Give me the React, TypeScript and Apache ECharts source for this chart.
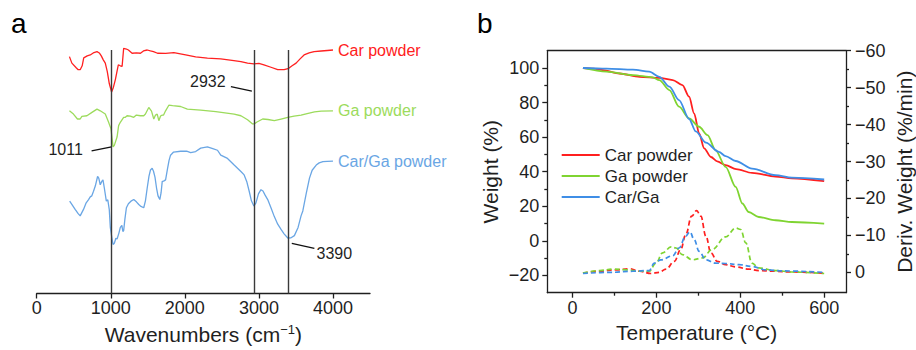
import React, { useEffect, useRef } from 'react';
import * as echarts from 'echarts';

const FONT = '"Liberation Sans", Arial, Helvetica, sans-serif';
const INK = '#1f1f1f';

// ---------- Panel a: FTIR spectra (wavenumber cm-1, offset transmittance a.u.) ----------
const ftirCar: number[][] = [
  [442, 240.3], [475, 233.7], [533, 229], [560, 227], [587, 227], [614, 231], [635, 239], [682, 241],
  [723, 242], [763, 244], [814, 245.3], [845, 244], [872, 241], [899, 237], [926, 233.7], [953, 225],
  [980, 213], [1011, 204.3], [1035, 209], [1062, 217], [1089, 227], [1102, 232], [1129, 231], [1153, 230.3],
  [1174, 248.7], [1211, 248], [1238, 247], [1288, 243.7], [1346, 244], [1401, 243.7], [1441, 246],
  [1492, 247], [1536, 246], [1577, 245.3], [1631, 243.7], [1740, 243.5], [1852, 244.3], [2011, 242],
  [2146, 240], [2305, 238.7], [2485, 238], [2662, 236.3], [2757, 235.3], [2847, 233.7], [2933, 233],
  [3000, 233.5], [3068, 232], [3163, 229.5], [3254, 227], [3340, 227], [3394, 228], [3448, 231],
  [3502, 233.7], [3556, 238], [3610, 242], [3678, 244], [3746, 245.3], [3841, 246], [3923, 246.5], [4000, 247],
];
const ftirGa: number[][] = [
  [442, 185.3], [496, 182], [550, 177], [587, 177], [610, 179.7], [678, 180.3], [746, 183.7], [814, 187],
  [858, 185.3], [926, 182], [971, 173.7], [1003, 167], [1031, 148.7], [1048, 150.3], [1085, 158.7],
  [1106, 170.3], [1129, 173.7], [1174, 178.7], [1197, 178.7], [1220, 180.3], [1265, 180], [1310, 178.7],
  [1346, 181], [1401, 180.3], [1445, 180.3], [1468, 182], [1513, 188.7], [1550, 185], [1581, 177],
  [1604, 181], [1627, 182], [1649, 175.3], [1672, 180], [1695, 181], [1713, 181], [1740, 185.3],
  [1784, 191], [1835, 190.5], [1943, 189.7], [2034, 187], [2214, 186], [2418, 184.5], [2666, 182],
  [2757, 180.3], [2847, 176.3], [2915, 172], [2937, 172], [2974, 174], [3051, 177], [3123, 176.5],
  [3208, 175.3], [3299, 177], [3390, 178.7], [3475, 180], [3570, 181], [3651, 182.5], [3751, 184.3],
  [3841, 185], [4000, 185.3],
];
const ftirCarGa: number[][] = [
  [445, 93.7], [479, 90], [519, 85.3], [560, 81], [587, 78.7], [632, 85.3], [668, 92], [700, 95.3],
  [723, 98], [743, 99], [767, 103.7], [791, 109], [822, 118.7], [838, 117], [858, 110.3], [881, 114],
  [895, 115.3], [913, 107], [940, 93.7], [960, 95], [980, 85], [994, 67], [1014, 57], [1031, 49.7],
  [1048, 51], [1069, 56], [1085, 55.3], [1109, 61], [1129, 67], [1150, 69], [1163, 63], [1174, 63.7],
  [1190, 75], [1211, 87], [1238, 91], [1279, 94], [1310, 95.3], [1346, 93], [1378, 90.3], [1401, 88.7],
  [1445, 87], [1468, 94], [1492, 107], [1516, 119], [1536, 125.3], [1559, 127], [1577, 124], [1597, 118],
  [1618, 107], [1638, 99], [1662, 95.3], [1679, 102], [1695, 113.7], [1713, 114], [1740, 115.3],
  [1767, 127], [1787, 135], [1807, 140.3], [1848, 143.5], [1943, 144.3], [2024, 144.5], [2079, 143],
  [2146, 144], [2214, 147.5], [2305, 148.7], [2377, 147], [2441, 145.3], [2485, 140.3], [2576, 137],
  [2666, 130.3], [2757, 123.7], [2801, 120.3], [2838, 113], [2869, 103.7], [2899, 94], [2932, 88.7],
  [2960, 92], [2994, 101], [3028, 105.3], [3055, 104], [3082, 100], [3119, 95.3], [3163, 87], [3208, 78],
  [3254, 70.3], [3299, 65], [3340, 60.5], [3390, 56.3], [3434, 56.5], [3479, 58.7], [3529, 67], [3570, 79],
  [3593, 83.7], [3638, 101], [3683, 117], [3719, 125], [3774, 130.3], [3814, 132.5], [3864, 133.7],
  [3923, 134], [4000, 134.3],
];
const ftirNames = ['Car powder', 'Ga powder', 'Car/Ga powder'];
const ftirPeakLines = [1011, 2932, 3390];
const wavenumberTicks = [0, 1000, 2000, 3000, 4000];
// annotated peaks: wavenumber and spectrum level where the leader line points
const ftirAnnotations = [
  { wavenumber: 1011, level: 148.7, text: '1011' },
  { wavenumber: 2932, level: 205.3, text: '2932' },
  { wavenumber: 3390, level: 56.3, text: '3390' },
];

// ---------- Panel b: TGA (weight %) and DTG (%/min) ----------
const tgCar: number[][] = [
  [25, 100], [50, 99.6], [73, 98.7], [112, 96.8], [160, 94.9], [207, 94.3], [239, 93], [262, 90.1],
  [278, 83.4], [290, 73.7], [302, 62.1], [314, 53.5], [330, 48.5], [345, 46], [365, 43.8], [390, 41.5],
  [428, 39.3], [484, 37.2], [523, 36.2], [600, 34.5],
];
const tgGa: number[][] = [
  [25, 100], [81, 97.9], [144, 95.9], [191, 94.6], [207, 93], [231, 87.2], [254, 77.6], [278, 70.8],
  [302, 66], [322, 61.2], [341, 52.5], [365, 42.8], [389, 31.2], [405, 21.6], [420, 16.7], [444, 13.8],
  [484, 11.9], [523, 10.9], [600, 10],
];
const tgCarGa: number[][] = [
  [25, 100], [81, 99.6], [144, 99], [183, 97.9], [207, 94.9], [231, 89.2], [254, 81.4], [278, 70.5],
  [294, 63.3], [318, 56.8], [349, 51.5], [365, 49], [389, 46.2], [428, 41.8], [484, 38], [523, 36.6],
  [600, 35.5],
];
const dtgCar: number[][] = [
  [25, 0.2], [65, -0.3], [104, -0.7], [136, -1.0], [160, -0.3], [187, 0.3], [207, 0], [223, -0.9],
  [243, -3], [258, -6.2], [270, -10.2], [284, -15.2], [296, -16.7], [306, -15.2], [318, -9.8],
  [330, -5.3], [345, -3], [365, -2.1], [389, -1.5], [420, -0.9], [444, -0.5], [484, -0.3], [523, -0.1],
  [600, 0.2],
];
const dtgGa: number[][] = [
  [25, 0.2], [65, -0.5], [96, -0.9], [128, -0.7], [160, -0.3], [183, -0.3], [199, -2.5], [215, -5.3],
  [235, -6.9], [247, -6.6], [262, -4.8], [286, -3.4], [310, -3.9], [333, -6.2], [365, -9.6], [389, -12],
  [401, -11.6], [413, -8], [428, -2.5], [444, -1.2], [484, -0.5], [523, -0.1], [600, 0.3],
];
const dtgCarGa: number[][] = [
  [25, 0.3], [88, 0], [144, -0.3], [183, -0.5], [195, -2.5], [211, -3.4], [239, -4.5], [254, -6.6],
  [270, -9.8], [280, -11], [290, -8.9], [302, -5.7], [318, -3.4], [341, -2.5], [365, -2.4], [397, -2.1],
  [428, -1.6], [460, -0.7], [499, -0.4], [600, 0],
];
const tgaNames = ['Car powder', 'Ga powder', 'Car/Ga'];
const temperatureTicks = [0, 200, 400, 600];
const temperatureMinorTicks = [100, 300, 500];
const weightTicks = [-20, 0, 20, 40, 60, 80, 100];
const weightMinorTicks = [-10, 10, 30, 50, 70, 90];
const derivTicks = [-60, -50, -40, -30, -20, -10, 0];
const derivMinorTicks = [-55, -45, -35, -25, -15, -5];

const ftirColors = ['#ff2020', '#9cdb5c', '#6aa6e4'];
const tgaColors = ['#ff1f1f', '#7fd431', '#3f8ee6'];

const plain = (v: number) => String(v).replace('-', '\u2212');

const axisLineStyle = { color: INK, width: 1.3 };
const labelStyle = { color: INK, fontSize: 18, fontFamily: FONT };

export default function App() {
  const ref = useRef<HTMLDivElement>(null);

  useEffect(() => {
    if (!ref.current) return;
    const chart = echarts.init(ref.current, null, { renderer: 'svg' });

    const ftirSeries = [ftirCar, ftirGa, ftirCarGa].map((data, i) => ({
      type: 'line',
      name: 'ftir-' + i,
      xAxisIndex: 0,
      yAxisIndex: 0,
      data,
      symbol: 'none',
      showSymbol: false,
      clip: false,
      lineStyle: { color: ftirColors[i], width: 1.3 },
      itemStyle: { color: ftirColors[i] },
      endLabel: {
        show: true,
        formatter: () => ftirNames[i],
        color: ftirColors[i],
        fontSize: 16,
        fontFamily: FONT,
        distance: 5,
      },
      markLine:
        i === 0
          ? {
              silent: true,
              symbol: 'none',
              label: { show: false },
              lineStyle: { color: '#3a3a3a', width: 1.4, type: 'solid' },
              data: ftirPeakLines.map((x) => ({ xAxis: x })),
            }
          : undefined,
    }));

    const tgSeries = [tgCar, tgGa, tgCarGa].map((data, i) => ({
      type: 'line',
      name: tgaNames[i],
      xAxisIndex: 1,
      yAxisIndex: 1,
      data,
      symbol: 'none',
      smooth: 0.3,
      smoothMonotone: 'x',
      lineStyle: { color: tgaColors[i], width: 1.8 },
      itemStyle: { color: tgaColors[i] },
    }));

    const dtgSeries = [dtgCar, dtgGa, dtgCarGa].map((data, i) => ({
      type: 'line',
      name: 'dtg-' + i,
      xAxisIndex: 1,
      yAxisIndex: 2,
      data,
      symbol: 'none',
      smooth: 0.4,
      smoothMonotone: 'x',
      lineStyle: { color: tgaColors[i], width: 1.7, type: [5, 3] },
      itemStyle: { color: tgaColors[i] },
    }));

    const hiddenLine = { show: false };
    const option: any = {
      animation: false,
      backgroundColor: '#fff',
      textStyle: { fontFamily: FONT },
      grid: [
        { left: 36.7, width: 333.3, top: 50, height: 247 },
        { left: 547.3, width: 300.4, top: 50.7, height: 242 },
      ],
      legend: {
        data: tgaNames,
        orient: 'vertical',
        left: 556.7,
        top: 141.5,
        icon: 'rect',
        itemWidth: 38,
        itemHeight: 2,
        itemGap: 4,
        selectedMode: false,
        textStyle: { fontSize: 17, color: INK, fontFamily: FONT, lineHeight: 17 },
      },
      xAxis: [
        {
          gridIndex: 0,
          type: 'value',
          min: 0,
          max: 4500,
          axisLine: { onZero: false, lineStyle: axisLineStyle },
          axisTick: { customValues: wavenumberTicks, length: 5, lineStyle: axisLineStyle },
          axisLabel: { customValues: wavenumberTicks, margin: 5, formatter: plain, ...labelStyle },
          splitLine: { show: false },
          name: '{n|Wavenumbers (cm}{s|\u22121}{n|)}',
          nameLocation: 'middle',
          nameGap: 29,
          nameTextStyle: {
            rich: {
              n: { fontSize: 21, color: INK, fontFamily: FONT, lineHeight: 24 },
              s: { fontSize: 13, color: INK, fontFamily: FONT, lineHeight: 14, verticalAlign: 'top' },
            },
          },
        },
        {
          gridIndex: 1,
          type: 'value',
          min: -60,
          max: 652,
          axisLine: { onZero: false, lineStyle: axisLineStyle },
          axisTick: { customValues: temperatureTicks, length: 5, lineStyle: axisLineStyle },
          axisLabel: { customValues: temperatureTicks, margin: 6, formatter: plain, ...labelStyle },
          splitLine: { show: false },
          name: 'Temperature (\u00B0C)',
          nameLocation: 'middle',
          nameGap: 29,
          nameTextStyle: { fontSize: 21, color: INK, fontFamily: FONT },
        },
        {
          gridIndex: 1,
          type: 'value',
          min: -60,
          max: 652,
          position: 'bottom',
          axisLine: { show: false, onZero: false },
          axisTick: { customValues: temperatureMinorTicks, length: 3, lineStyle: axisLineStyle },
          axisLabel: hiddenLine,
          splitLine: hiddenLine,
        },
        {
          gridIndex: 1,
          type: 'value',
          min: -60,
          max: 652,
          position: 'top',
          axisLine: { show: true, onZero: false, lineStyle: axisLineStyle },
          axisTick: hiddenLine,
          axisLabel: hiddenLine,
          splitLine: hiddenLine,
        },
      ],
      yAxis: [
        { gridIndex: 0, type: 'value', min: 0, max: 247, show: false, axisLine: { onZero: false } },
        {
          gridIndex: 1,
          type: 'value',
          min: -30,
          max: 110,
          position: 'left',
          axisLine: { show: true, onZero: false, lineStyle: axisLineStyle },
          axisTick: { show: true, customValues: weightTicks, length: 5, lineStyle: axisLineStyle },
          axisLabel: { customValues: weightTicks, margin: 8, formatter: plain, ...labelStyle },
          splitLine: hiddenLine,
          name: 'Weight (%)',
          nameLocation: 'middle',
          nameRotate: 90,
          nameGap: 46,
          nameTextStyle: { fontSize: 21, color: INK, fontFamily: FONT },
        },
        {
          gridIndex: 1,
          type: 'value',
          min: -60,
          max: 5.5,
          inverse: true,
          position: 'right',
          axisLine: { show: true, onZero: false, lineStyle: axisLineStyle },
          axisTick: { show: true, customValues: derivTicks, length: 5, lineStyle: axisLineStyle },
          axisLabel: { customValues: derivTicks, margin: 9, formatter: plain, ...labelStyle },
          splitLine: hiddenLine,
          name: 'Deriv. Weight (%/min)',
          nameLocation: 'middle',
          nameRotate: 90,
          nameGap: 48,
          nameTextStyle: { fontSize: 21, color: INK, fontFamily: FONT },
        },
        {
          gridIndex: 1,
          type: 'value',
          min: -30,
          max: 110,
          position: 'left',
          axisLine: { show: false, onZero: false },
          axisTick: { show: true, customValues: weightMinorTicks, length: 3, lineStyle: axisLineStyle },
          axisLabel: hiddenLine,
          splitLine: hiddenLine,
        },
        {
          gridIndex: 1,
          type: 'value',
          min: -60,
          max: 5.5,
          inverse: true,
          position: 'right',
          axisLine: { show: false, onZero: false },
          axisTick: { show: true, customValues: derivMinorTicks, length: 3, lineStyle: axisLineStyle },
          axisLabel: hiddenLine,
          splitLine: hiddenLine,
        },
      ],
      series: [...ftirSeries, ...tgSeries, ...dtgSeries],
    };

    chart.setOption(option);

    // annotation layout relative to the peak anchor (px)
    const annoLayout: Record<string, { l1: number[]; l2: number[]; t: number[] }> = {
      '1011': { l1: [0, 0], l2: [-20, 4], t: [-46, 2.4] },
      '2932': { l1: [-2, 0], l2: [-23, -4.4], t: [-46, -9.4] },
      '3390': { l1: [4, 5.3], l2: [26.6, 10.3], t: [46.5, 15.3] },
    };
    const graphics: any[] = [
      {
        type: 'text',
        style: { text: 'a', x: 11, y: 23.5, fontSize: 28, fontFamily: FONT, fill: '#000', verticalAlign: 'middle' },
      },
      {
        type: 'text',
        style: { text: 'b', x: 477, y: 23.5, fontSize: 28, fontFamily: FONT, fill: '#000', verticalAlign: 'middle' },
      },
    ];
    ftirAnnotations.forEach((a) => {
      const p = chart.convertToPixel({ gridIndex: 0 } as any, [a.wavenumber, a.level]) as number[];
      const lay = annoLayout[a.text];
      graphics.push({
        type: 'line',
        shape: { x1: p[0] + lay.l1[0], y1: p[1] + lay.l1[1], x2: p[0] + lay.l2[0], y2: p[1] + lay.l2[1] },
        style: { stroke: '#111', lineWidth: 1.2 },
      });
      graphics.push({
        type: 'text',
        style: {
          text: a.text,
          x: p[0] + lay.t[0],
          y: p[1] + lay.t[1],
          fontSize: 16,
          fontFamily: FONT,
          fill: INK,
          align: 'center',
          verticalAlign: 'middle',
        },
      });
    });
    chart.setOption({ graphic: graphics });

    return () => chart.dispose();
  }, []);

  return (
    <div
      ref={ref}
      style={{ position: 'fixed', left: 0, top: 0, width: 916, height: 350, background: '#fff' }}
    />
  );
}
